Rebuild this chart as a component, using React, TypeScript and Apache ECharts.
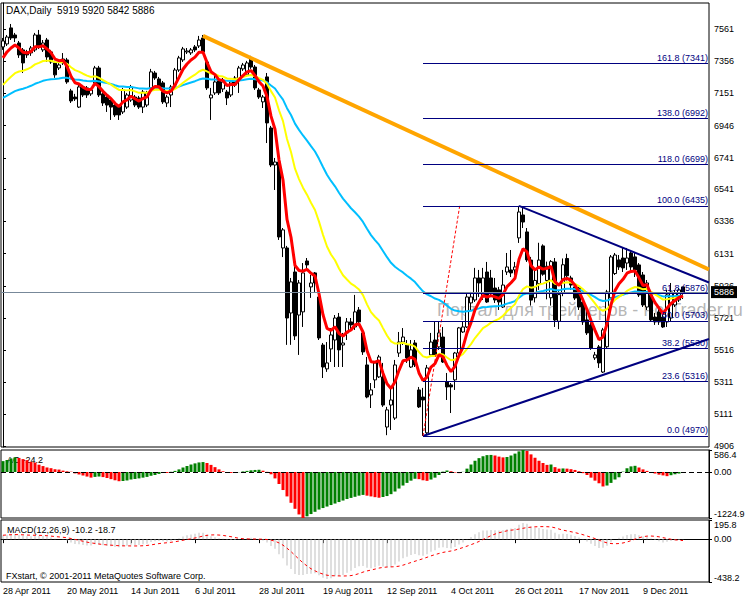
import React, { useEffect, useRef } from 'react';
import * as echarts from 'echarts';

// ---------- axis / tick labels ----------
const DATE_LABELS = ['28 Apr 2011', '20 May 2011', '14 Jun 2011', '6 Jul 2011', '28 Jul 2011', '19 Aug 2011', '12 Sep 2011', '4 Oct 2011', '26 Oct 2011', '17 Nov 2011', '9 Dec 2011'];
const PRICE_TICKS = [4906, 5111, 5311, 5516, 5721, 5926, 6131, 6336, 6541, 6741, 6946, 7151, 7356, 7561];
const AO_TICKS = [-1224.9, 0, 586.4];
const MACD_TICKS = [-438.2, 0, 195.8];

// ---------- DAX daily OHLC (28 Apr 2011 .. 23 Dec 2011) ----------
const OPEN = [7447, 7466, 7568, 7523, 7472, 7428, 7415, 7409, 7428, 7523, 7428, 7491, 7415, 7345, 7313, 7345, 7364, 7167, 7128, 7064,
  7192, 7186, 7148, 7218, 7313, 7148, 7128, 7109, 7077, 7064, 7033, 7064, 7109, 7128, 7122, 7064, 7077, 7186, 7281, 7243,
  7218, 7090, 7141, 7205, 7300, 7364, 7415, 7409, 7447, 7453, 7504, 7351, 7122, 7154, 7237, 7179, 7160, 7141, 7249, 7237,
  7307, 7269, 7377, 7319, 7173, 7097, 7256, 6931, 6695, 6714, 6167, 6167, 5753, 6014, 5740, 5760, 6084, 5919, 6008, 5855,
  5549, 5397, 5524, 5581, 5727, 5549, 5626, 5696, 5664, 5772, 5626, 5422, 5231, 5327, 5346, 5346, 5027, 5167, 5084, 5498,
  5568, 5549, 5409, 5562, 5263, 5218, 4990, 5486, 5581, 5537, 5600, 5314, 5295, 5327, 5498, 5632, 5664, 5817, 5836, 5976,
  5855, 6014, 5976, 5912, 5900, 5791, 6014, 6027, 6027, 6231, 6377, 6269, 6090, 5850, 5940, 6180, 5960, 5850, 6078, 5700,
  5880, 6100, 5976, 5919, 5912, 5823, 5709, 5677, 5467, 5537, 5377, 5538, 5849, 6004, 6091, 6103, 6071, 6135, 6110, 6059,
  5995, 5791, 5868, 5727, 5760, 5727, 5696, 5721, 5804, 5836, 5919];
const CLOSE = [7485, 7510, 7504, 7504, 7396, 7345, 7396, 7440, 7523, 7447, 7472, 7383, 7351, 7269, 7332, 7370, 7224, 7103, 7116, 7192,
  7141, 7141, 7173, 7313, 7141, 7090, 7077, 7064, 7014, 7014, 7173, 7141, 7192, 7077, 7064, 7160, 7154, 7288, 7249, 7186,
  7097, 7128, 7192, 7300, 7377, 7434, 7421, 7428, 7428, 7491, 7415, 7186, 7141, 7224, 7154, 7224, 7122, 7224, 7205, 7313,
  7332, 7345, 7319, 7186, 7128, 7128, 6963, 6695, 6714, 6237, 6282, 5721, 5951, 5607, 5944, 6008, 6059, 5944, 5944, 5594,
  5409, 5435, 5613, 5721, 5518, 5562, 5696, 5677, 5760, 5696, 5505, 5218, 5263, 5435, 5473, 5167, 5136, 5199, 5422, 5568,
  5600, 5467, 5518, 5422, 5155, 5199, 5403, 5568, 5486, 5626, 5441, 5282, 5282, 5498, 5658, 5664, 5855, 5855, 5976, 5944,
  5976, 5823, 5887, 5836, 5823, 5931, 6046, 6008, 6046, 6396, 6332, 6091, 5835, 5960, 6090, 6000, 6050, 6080, 5708, 5870,
  6060, 5990, 5931, 5848, 5791, 5696, 5626, 5530, 5486, 5435, 5645, 5887, 6110, 6122, 6046, 6040, 6103, 6046, 6027, 5868,
  5804, 5944, 5709, 5696, 5696, 5664, 5868, 5887, 5880, 5900, 5886];
const LOW = [7428, 7453, 7491, 7478, 7377, 7281, 7377, 7390, 7415, 7434, 7415, 7351, 7339, 7250, 7300, 7332, 7212, 7090, 7103, 7058,
  7128, 7122, 7135, 7205, 7128, 7071, 7033, 6982, 7001, 6982, 7020, 7052, 7097, 7064, 7052, 7026, 7064, 7173, 7237, 7173,
  7084, 7064, 7064, 7192, 7288, 7351, 7402, 7396, 7415, 7440, 7408, 7173, 6982, 7141, 7141, 7160, 7077, 7128, 7192, 7154,
  7294, 7256, 7307, 7173, 7116, 7058, 6835, 6682, 6536, 6218, 6109, 5550, 5550, 5581, 5486, 5664, 6027, 5849, 5887, 5581,
  5339, 5378, 5441, 5409, 5409, 5409, 5581, 5645, 5645, 5677, 5486, 5210, 5148, 5275, 5339, 5155, 4975, 5008, 5072, 5473,
  5549, 5435, 5403, 5409, 5148, 4970, 4978, 5473, 5473, 5518, 5435, 5199, 5116, 5263, 5473, 5626, 5657, 5772, 5823, 5855,
  5836, 5817, 5855, 5817, 5772, 5785, 5995, 5982, 5995, 6199, 6294, 6078, 5800, 5820, 5900, 5990, 5840, 5800, 5664, 5650,
  5860, 5960, 5900, 5836, 5772, 5677, 5613, 5518, 5454, 5403, 5371, 5530, 5836, 5995, 6027, 6014, 6027, 6027, 5982, 5855,
  5791, 5772, 5696, 5677, 5677, 5658, 5664, 5696, 5791, 5823, 5842];
const HIGH = [7504, 7523, 7593, 7536, 7485, 7440, 7428, 7453, 7536, 7555, 7491, 7504, 7428, 7358, 7345, 7408, 7377, 7180, 7148, 7205,
  7205, 7198, 7186, 7326, 7326, 7160, 7141, 7122, 7090, 7077, 7186, 7154, 7205, 7141, 7135, 7173, 7167, 7307, 7294, 7256,
  7230, 7141, 7205, 7313, 7390, 7447, 7440, 7440, 7459, 7517, 7523, 7364, 7186, 7281, 7249, 7249, 7173, 7237, 7262, 7326,
  7345, 7358, 7390, 7332, 7186, 7141, 7281, 6944, 6740, 6727, 6294, 6180, 5976, 6122, 5963, 6071, 6103, 5995, 6014, 5867,
  5562, 5568, 5657, 5740, 5753, 5626, 5721, 5721, 5868, 5791, 5645, 5473, 5307, 5441, 5486, 5435, 5155, 5282, 5454, 5632,
  5657, 5581, 5581, 5581, 5282, 5276, 5422, 5626, 5696, 5696, 5664, 5371, 5307, 5505, 5664, 5696, 5880, 5887, 6040, 6027,
  6040, 6078, 6027, 5976, 5919, 6027, 6135, 6154, 6078, 6435, 6428, 6294, 6110, 6030, 6200, 6190, 6080, 6090, 6103, 5900,
  6100, 6130, 5990, 5930, 5919, 5836, 5791, 5709, 5505, 5549, 5658, 5900, 6122, 6135, 6122, 6167, 6167, 6154, 6135, 6071,
  6014, 5963, 5900, 5753, 5791, 5753, 5900, 5944, 5900, 5912, 5920];

// ---------- Awesome Oscillator (read from the sub-window) ----------
const AO = [290, 320, 360, 390, 375, 344, 316, 270, 251, 195, 158, 121, 102, 74, 65, 37, 19, 9, -37, -65,
  -93, -121, -149, -130, -120, -135, -160, -190, -220, -245, -240, -225, -200, -185, -170, -150, -130, -100, -80, -50,
  -15, -25, 5, 30, 70, 120, 160, 200, 230, 255, 265, 240, 190, 130, 70, 20, -10, -25, -20, -5,
  15, 30, 45, 55, 60, 35, 5, -60, -170, -320, -480, -650, -820, -980, -1130, -1224.9, -1180, -1120, -1060, -1000,
  -960, -920, -880, -840, -800, -760, -720, -690, -660, -630, -610, -630, -650, -670, -685, -665, -640, -590, -520, -440,
  -360, -290, -230, -180, -190, -220, -235, -200, -150, -80, 10, 40, 20, -15, -30, 5, 90, 200, 300, 370,
  420, 450, 455, 440, 410, 390, 400, 440, 490, 550, 586.4, 560, 470, 380, 300, 240, 190, 200, 130, 90,
  95, 90, 75, 55, 20, -30, -80, -150, -230, -300, -385, -360, -290, -200, -140, 10, 100, 150, 165, 120,
  70, 30, -10, -40, -70, -90, -110, -85, -60, -40, -24.2];

// ---------- indicator settings / starting values read at the first bar ----------
const MA_FAST = { period: 6, start: 7377 };
const MA_MID = { period: 21, start: 7205 };
const MA_SLOW = { period: 50, start: 7122 };
const MACD_FAST = { period: 12, start: 7400 };
const MACD_SLOW = { period: 26, start: 7360 };
const MACD_SIGNAL_PERIOD = 9;

// ---------- drawn objects ----------
const FIB_RATIOS = [0, 23.6, 38.2, 50, 61.8, 100, 118, 138, 161.8];
const FIB_VALUES = [4970, 5316, 5530, 5703, 5876, 6435, 6699, 6992, 7341];
const FIB_START = 105;
const FIB_END = 176.25;
const ORANGE_LINE = [[50, 7517], [176.5, 6030]];
const NAVY_UPPER = [[129, 6435], [176.5, 5947]];
const NAVY_LOWER = [[105, 4970], [176.5, 5587]];
const FIB_SPAN = [[105, 4970], [114.25, 6447]];
const LAST_PRICE = 5886;
const SLOTS = 177;

function ema(vals: number[], period: number, start: number): number[] {
  const k = 2 / (period + 1);
  const out: number[] = [];
  let p = start;
  vals.forEach((v, i) => {
    if (i > 0) p = p + (v - p) * k;
    out.push(Math.round(p * 10) / 10);
  });
  return out;
}

export default function App() {
  const ref = useRef<HTMLDivElement>(null);
  useEffect(() => {
    const chart = echarts.init(ref.current!, null, { renderer: 'svg' });
    const FONT = 'Liberation Sans, Arial, sans-serif';
    const cats = Array.from({ length: SLOTS }, (_, i) => String(i));
    const candles = OPEN.map((o, i) => [o, CLOSE[i], LOW[i], HIGH[i]]);
    const maFast = ema(CLOSE, MA_FAST.period, MA_FAST.start);
    const maMid = ema(CLOSE, MA_MID.period, MA_MID.start);
    const maSlow = ema(CLOSE, MA_SLOW.period, MA_SLOW.start);
    const e12 = ema(CLOSE, MACD_FAST.period, MACD_FAST.start);
    const e26 = ema(CLOSE, MACD_SLOW.period, MACD_SLOW.start);
    const macd = e12.map((v, i) => Math.round((v - e26[i]) * 10) / 10);
    const signal = macd.map((_, i) => {
      const w = macd.slice(Math.max(0, i - MACD_SIGNAL_PERIOD + 1), i + 1);
      return Math.round((w.reduce((a, b) => a + b, 0) / w.length) * 10) / 10;
    });
    const aoData = AO.map((v, i) => ({
      value: v,
      itemStyle: { color: i === 0 || v > AO[i - 1] ? '#008000' : '#FF0000' },
    }));

    const gridBase = { show: true, borderColor: '#000', borderWidth: 1, left: 1, width: 708 };
    const hiddenCat = (g: number) => ({
      gridIndex: g, type: 'category', data: cats, boundaryGap: true,
      axisLine: { show: false }, axisTick: { show: false }, axisLabel: { show: false }, splitLine: { show: false },
    });
    const yAx = (g: number, min: number, max: number, ticks: number[], fmt: (v: number) => string) => ({
      gridIndex: g, type: 'value', position: 'right', min, max,
      axisLine: { show: true, lineStyle: { color: '#000', width: 1 } },
      axisTick: { show: true, length: 3, lineStyle: { color: '#000' }, customValues: ticks },
      axisLabel: {
        customValues: ticks, color: '#000', fontSize: 9, fontFamily: FONT, margin: 5,
        formatter: fmt, verticalAlignMinLabel: g === 0 ? 'middle' : 'bottom', verticalAlignMaxLabel: g === 0 ? 'middle' : 'top',
      },
      splitLine: { show: false },
    });
    const dateShown = (i: number) => i % 16 === 0 && i / 16 < DATE_LABELS.length;

    const option: any = {
      animation: false,
      backgroundColor: '#fff',
      textStyle: { fontFamily: FONT },
      grid: [
        { ...gridBase, top: 3, height: 444 },
        { ...gridBase, top: 450, height: 68 },
        { ...gridBase, top: 520, height: 62 },
      ],
      xAxis: [
        hiddenCat(0),
        { gridIndex: 0, type: 'value', min: -0.5, max: SLOTS - 0.5, show: false },
        hiddenCat(1),
        {
          gridIndex: 2, type: 'category', data: cats, boundaryGap: true,
          axisLine: { show: true, lineStyle: { color: '#000' } },
          axisTick: { show: true, alignWithLabel: true, length: 4, interval: dateShown, lineStyle: { color: '#000' } },
          axisLabel: {
            interval: dateShown, align: 'left', margin: 4, color: '#000', fontSize: 9, fontFamily: FONT,
            formatter: (_v: string, i: number) => DATE_LABELS[i / 16] ?? '',
          },
          splitLine: { show: false },
        },
      ],
      yAxis: [
        yAx(0, 4899.7, 7726.6, PRICE_TICKS, (v) => String(Math.round(v))),
        yAx(1, -1224.9, 586.4, AO_TICKS, (v) => (v === 0 ? '0.00' : v.toFixed(1))),
        yAx(2, -438.2, 195.8, MACD_TICKS, (v) => (v === 0 ? '0.00' : v.toFixed(1))),
      ],
      graphic: [
        { type: 'text', left: 437, top: 301, z: 1, silent: true, style: { text: 'Портал для трейдеров - ForTrader.ru', fontSize: 18, fontFamily: FONT, fill: 'rgba(120,120,120,0.55)' } },
        { type: 'text', left: 6, top: 5, style: { text: 'DAX,Daily  5919 5920 5842 5886', fontSize: 10, fontFamily: FONT, fill: '#000' } },
        { type: 'text', left: 7, top: 455, style: { text: 'AO -24.2', fontSize: 9, fontFamily: FONT, fill: '#000' } },
        { type: 'text', left: 7, top: 525, style: { text: 'MACD(12,26,9) -10.2 -18.7', fontSize: 9, fontFamily: FONT, fill: '#000' } },
        { type: 'text', left: 6, top: 571, style: { text: 'FXstart, © 2001-2011 MetaQuotes Software Corp.', fontSize: 9, fontFamily: FONT, fill: '#000' } },
      ],
      series: [
        {
          type: 'line', xAxisIndex: 1, yAxisIndex: 0, data: [[FIB_START, FIB_VALUES[0]]], symbol: 'none',
          lineStyle: { opacity: 0 }, silent: true, z: 1,
          markLine: {
            silent: true, symbol: 'none', animation: false,
            lineStyle: { color: '#000080', width: 1, type: 'solid' },
            label: { show: true, position: 'insideEndTop', formatter: '{b}', color: '#000080', fontSize: 9, fontFamily: FONT, distance: [0, 1] },
            data: FIB_RATIOS.map((r, i) => [
              { name: `${r.toFixed(1)} (${FIB_VALUES[i]})`, coord: [FIB_START, FIB_VALUES[i]] },
              { coord: [FIB_END, FIB_VALUES[i]] },
            ]),
          },
        },
        {
          type: 'candlestick', xAxisIndex: 0, yAxisIndex: 0, data: candles, barWidth: 3, z: 2,
          itemStyle: { color: '#fff', color0: '#000', borderColor: '#000', borderColor0: '#000', borderWidth: 1 },
          markLine: {
            silent: true, symbol: 'none', animation: false,
            lineStyle: { color: '#778899', width: 1, type: 'solid' },
            label: { show: true, position: 'end', formatter: String(LAST_PRICE), backgroundColor: '#000', color: '#fff', fontSize: 9, fontFamily: FONT, padding: [2, 3, 1, 3], distance: 2 },
            data: [{ yAxis: LAST_PRICE }],
          },
        },
        { type: 'line', xAxisIndex: 0, yAxisIndex: 0, data: maSlow, symbol: 'none', lineStyle: { color: '#00BFFF', width: 2 }, z: 3, silent: true },
        { type: 'line', xAxisIndex: 0, yAxisIndex: 0, data: maMid, symbol: 'none', lineStyle: { color: '#FFFF00', width: 2 }, z: 3, silent: true },
        { type: 'line', xAxisIndex: 0, yAxisIndex: 0, data: maFast, symbol: 'none', lineStyle: { color: '#FF0000', width: 3 }, z: 3, silent: true },
        { type: 'line', xAxisIndex: 1, yAxisIndex: 0, data: ORANGE_LINE, symbol: 'none', lineStyle: { color: '#FFA500', width: 4 }, z: 4, silent: true },
        { type: 'line', xAxisIndex: 1, yAxisIndex: 0, data: NAVY_UPPER, symbol: 'none', lineStyle: { color: '#000080', width: 2 }, z: 4, silent: true },
        { type: 'line', xAxisIndex: 1, yAxisIndex: 0, data: NAVY_LOWER, symbol: 'none', lineStyle: { color: '#000080', width: 2 }, z: 4, silent: true },
        { type: 'line', xAxisIndex: 1, yAxisIndex: 0, data: FIB_SPAN, symbol: 'none', lineStyle: { color: '#FF0000', width: 1, type: [3, 2] }, z: 4, silent: true },
        {
          type: 'bar', xAxisIndex: 2, yAxisIndex: 1, data: aoData, barWidth: 3, silent: true,
          markLine: {
            silent: true, symbol: 'none', animation: false, label: { show: false },
            lineStyle: { color: '#000', width: 1, type: [5, 3] }, data: [{ yAxis: 0 }],
          },
        },
        { type: 'bar', xAxisIndex: 3, yAxisIndex: 2, data: macd, barWidth: 1, itemStyle: { color: '#C0C0C0' }, silent: true },
        { type: 'line', xAxisIndex: 3, yAxisIndex: 2, data: signal, symbol: 'none', lineStyle: { color: '#FF0000', width: 1, type: [3, 3] }, silent: true },
      ],
    };
    chart.setOption(option);
    return () => chart.dispose();
  }, []);
  return <div ref={ref} style={{ position: 'fixed', left: 0, top: 0, width: 750, height: 600, background: '#fff' }} />;
}
